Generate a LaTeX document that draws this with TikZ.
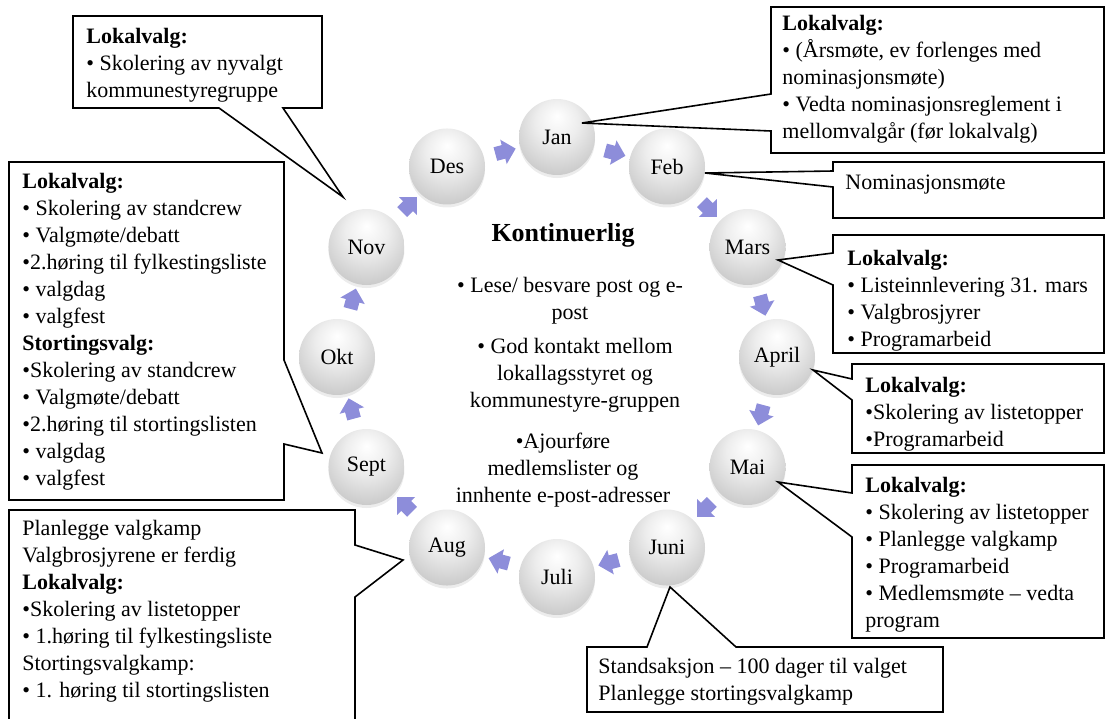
\documentclass[tikz,border=0pt]{standalone}
\usepackage{fontspec}
\setmainfont{Liberation Serif}
\usepackage{tikz}
\usetikzlibrary{shapes.arrows,shadows}
\definecolor{arrowblue}{RGB}{141,141,218}
\pgfdeclareradialshading{mndball}{\pgfpoint{0bp}{14bp}}{color(0bp)=(white); color(14bp)=(white!93!black); color(38bp)=(black!26); color(56bp)=(black!36)}

\begin{document}
\begin{tikzpicture}[x=0.5pt,y=-0.5pt]
        \tikzset{
        mnd node/.style={circle,minimum size=38pt,inner sep=0,shading=mndball,drop shadow={opacity=0.15,shadow xshift=0pt,shadow yshift=-1.5pt},font=\fontsize{11}{13}\selectfont},
        mnd arrow/.style={single arrow,fill=arrowblue,draw=none,inner sep=3.3pt,single arrow head extend=2.8pt},
        mnd box/.style={draw,line width=0.8pt},
        mnd text/.style={anchor=north west,inner sep=0,align=left,font=\fontsize{11}{13.5}\selectfont},
        mnd center/.style={inner sep=0,align=center,font=\fontsize{11}{13.5}\selectfont}
        }
        \clip (0,0) rectangle (1108,718);

        % months round the year
        \foreach \m/\a in {Jan/90,Feb/60,Mars/30,April/0,Mai/-30,Juni/-60,Juli/-90,Aug/-120,Sept/-150,Okt/180,Nov/150,Des/120}
            \node[mnd node] (\m) at ({557+220*cos(\a)},{357-220*sin(\a)}) {\m};
        \foreach \a [count=\i] in {75,45,15,-15,-45,-75,-105,-135,-165,165,135,105}
            \node[mnd arrow,rotate=\a-90] (pil\i) at ({557+212*cos(\a)},{357-212*sin(\a)}) {};

        % callout tips
        \coordinate (tipnov) at (343,197);
        \coordinate (tipsept) at (322,453);
        \coordinate (tipaug) at (403,560);
        \coordinate (tipjan) at (582,123);
        \coordinate (tipfeb) at (705,173);
        \coordinate (tipmars) at (778,260);
        \coordinate (tipapril) at (813,370);
        \coordinate (tipmai) at (778,482);
        \coordinate (tipjuni) at (670,587);

        \draw[mnd box] (73,16) -- (322,16) -- (322,108) -- (283,108) -- (tipnov) -- (219,108) -- (73,108) -- cycle;
        \node[mnd text] (txtnov) at (86,28) {\textbf{Lokalvalg:}\\• Skolering av nyvalgt\\kommunestyregruppe};

        \draw[mnd box] (9,162) -- (284,162) -- (284,360) -- (tipsept) -- (284,444) -- (284,500) -- (9,500) -- cycle;
        \node[mnd text] (txtsept) at (22,173) {\textbf{Lokalvalg:}\\• Skolering av standcrew\\• Valgmøte/debatt\\•2.høring til fylkestingsliste\\• valgdag\\• valgfest\\\textbf{Stortingsvalg:}\\•Skolering av standcrew\\• Valgmøte/debatt\\•2.høring til stortingslisten\\• valgdag\\• valgfest};

        \draw[mnd box] (9,510) -- (355,510) -- (355,545) -- (tipaug) -- (355,597) -- (355,740) -- (9,740) -- cycle;
        \node[mnd text] (txtaug) at (22,520) {Planlegge valgkamp\\Valgbrosjyrene er ferdig\\\textbf{Lokalvalg:}\\•Skolering av listetopper\\• 1.høring til fylkestingsliste\\Stortingsvalgkamp:\\• 1. høring til stortingslisten};

        \draw[mnd box] (771,7) -- (1104,7) -- (1104,153) -- (771,153) -- (771,131) -- (tipjan) -- (771,94) -- cycle;
        \node[mnd text] (txtjan) at (782,15) {\textbf{Lokalvalg:}\\• (Årsmøte, ev forlenges med\\nominasjonsmøte)\\• Vedta nominasjonsreglement i\\mellomvalgår (før lokalvalg)};

        \draw[mnd box] (833,162) -- (1104,162) -- (1104,218) -- (833,218) -- (833,187) -- (tipfeb) -- (833,171) -- cycle;
        \node[mnd text] (txtfeb) at (845,175) {Nominasjonsmøte};

        \draw[mnd box] (833,235) -- (1104,235) -- (1104,353) -- (833,353) -- (833,285) -- (tipmars) -- (833,253) -- cycle;
        \node[mnd text] (txtmars) at (847,250) {\textbf{Lokalvalg:}\\• Listeinnlevering 31. mars\\• Valgbrosjyrer\\• Programarbeid};

        \draw[mnd box] (852,364) -- (1104,364) -- (1104,453) -- (852,453) -- (852,400) -- (tipapril) -- (852,379) -- cycle;
        \node[mnd text] (txtapril) at (865,377) {\textbf{Lokalvalg:}\\•Skolering av listetopper\\•Programarbeid};

        \draw[mnd box] (852,465) -- (1104,465) -- (1104,638) -- (852,638) -- (852,537) -- (tipmai) -- (852,493) -- cycle;
        \node[mnd text] (txtmai) at (865,477) {\textbf{Lokalvalg:}\\• Skolering av listetopper\\• Planlegge valgkamp\\• Programarbeid\\• Medlemsmøte – vedta\\program};

        \draw[mnd box] (587,647) -- (647,647) -- (tipjuni) -- (736,647) -- (943,647) -- (943,712) -- (587,712) -- cycle;
        \node[mnd text] (txtjuni) at (598,658) {Standsaksjon – 100 dager til valget\\Planlegge stortingsvalgkamp};

        % middle text
        \node[font=\fontsize{13}{15}\selectfont\bfseries] (kont) at (563,235) {Kontinuerlig};
        \node[mnd center] (lese) at (570,301) {• Lese/ besvare post og e-\\post};
        \node[mnd center] (kontakt) at (575,375) {• God kontakt mellom\\lokallagsstyret og\\kommunestyre-gruppen};
        \node[mnd center] (ajour) at (563,470) {•Ajourføre\\medlemslister og\\innhente e-post-adresser};
    \end{tikzpicture}
\end{document}
